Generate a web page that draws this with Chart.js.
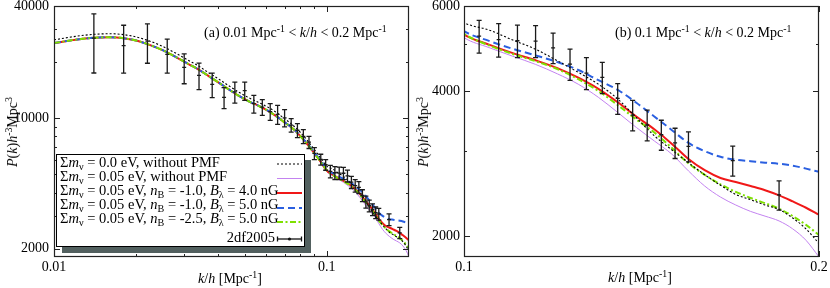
<!DOCTYPE html>
<html>
<head>
<meta charset="UTF-8" />
<title>P(k) comparison</title>
<style>
  body { margin: 0; background: white; }
  #wrap { position: relative; width: 830px; height: 288px; font-family: "Liberation Serif", serif; font-size: 14px; color: black; }
  canvas { position: absolute; top: 0; }
  .txt { position: absolute; white-space: nowrap; line-height: 14px; }
  .leg { font-size: 14.5px; }
  .ytitle { position: absolute; white-space: nowrap; line-height: 14px; transform: translate(-50%, -50%) rotate(-90deg); }
  .xtitle { position: absolute; white-space: nowrap; line-height: 14px; transform: translateX(-50%); }
  sup { font-size: 70%; vertical-align: 5px; line-height: 0; }
  sub { font-size: 70%; vertical-align: -3px; line-height: 0; }
  #legend { position: absolute; left: 56px; top: 154px; width: 249px; height: 93px; box-sizing: border-box;
            border: 1.5px solid #000; background: white; box-shadow: 6px 6px 0 #52605f; }
</style>
<script src="https://cdn.jsdelivr.net/npm/chart.js"></script>
</head>
<body>
<div id="wrap">
  <canvas id="chartLeft" width="415" height="288" style="left:0"></canvas>
  <canvas id="chartRight" width="415" height="288" style="left:415px"></canvas>

  <div class="txt" style="left:204px;top:26px">(a) 0.01 Mpc<sup>-1</sup> &lt; <i>k</i>/<i>h</i> &lt; 0.2 Mpc<sup>-1</sup></div>
  <div class="txt" style="left:615px;top:26px">(b) 0.1 Mpc<sup>-1</sup> &lt; <i>k</i>/<i>h</i> &lt; 0.2 Mpc<sup>-1</sup></div>

  <div class="ytitle" style="left:13px;top:132px"><i>P</i>(<i>k</i>)<i>h</i><sup>-3</sup>Mpc<sup>3</sup></div>
  <div class="ytitle" style="left:424px;top:132px"><i>P</i>(<i>k</i>)<i>h</i><sup>-3</sup>Mpc<sup>3</sup></div>
  <div class="xtitle" style="left:230px;top:272px"><i>k</i>/<i>h</i> [Mpc<sup>-1</sup>]</div>
  <div class="xtitle" style="left:640px;top:271px"><i>k</i>/<i>h</i> [Mpc<sup>-1</sup>]</div>

  <div id="legend"></div>
  <div class="txt leg" style="left:60px;top:155px">&Sigma;<i>m</i><sub>&nu;</sub> = 0.0 eV, without PMF</div>
  <div class="txt leg" style="left:60px;top:169px">&Sigma;<i>m</i><sub>&nu;</sub> = 0.05 eV, without PMF</div>
  <div class="txt leg" style="left:60px;top:183px">&Sigma;<i>m</i><sub>&nu;</sub> = 0.05 eV, <i>n</i><sub>B</sub> = -1.0, <i>B</i><sub>&lambda;</sub> = 4.0 nG</div>
  <div class="txt leg" style="left:60px;top:197px">&Sigma;<i>m</i><sub>&nu;</sub> = 0.05 eV, <i>n</i><sub>B</sub> = -1.0, <i>B</i><sub>&lambda;</sub> = 5.0 nG</div>
  <div class="txt leg" style="left:60px;top:211px">&Sigma;<i>m</i><sub>&nu;</sub> = 0.05 eV, <i>n</i><sub>B</sub> = -2.5, <i>B</i><sub>&lambda;</sub> = 5.0 nG</div>
  <div class="txt leg" style="right:555px;top:230px">2df2005</div>

  <svg width="830" height="288" style="position:absolute;left:0;top:0;pointer-events:none">
    <line x1="277" y1="164" x2="302" y2="164" stroke="#000" stroke-width="1" stroke-dasharray="2,2"/>
    <line x1="277" y1="178.5" x2="302" y2="178.5" stroke="#c383f0" stroke-width="1"/>
    <line x1="277" y1="193" x2="302" y2="193" stroke="#f01818" stroke-width="2"/>
    <line x1="277" y1="208" x2="302" y2="208" stroke="#2a5fe0" stroke-width="2" stroke-dasharray="7,4"/>
    <line x1="277" y1="222" x2="302" y2="222" stroke="#7ee000" stroke-width="2" stroke-dasharray="6,2.5,2,2.5"/>
    <line x1="277" y1="239" x2="302" y2="239" stroke="#111" stroke-width="1.3"/>
    <line x1="277.5" y1="236.5" x2="277.5" y2="241.5" stroke="#111" stroke-width="1.3"/>
    <line x1="301.5" y1="236.5" x2="301.5" y2="241.5" stroke="#111" stroke-width="1.3"/>
    <circle cx="289.5" cy="239" r="1.6" fill="#111"/>
  </svg>
</div>

<script>
// model curves, k/h in Mpc^-1
const kGrid = [0.010, 0.012, 0.014, 0.016, 0.018, 0.020, 0.022, 0.025, 0.028, 0.031, 0.034, 0.037, 0.040,
  0.044, 0.048, 0.052, 0.056, 0.060, 0.065, 0.070, 0.075, 0.080, 0.085, 0.090, 0.095,
  0.100, 0.105, 0.110, 0.115, 0.120, 0.125, 0.130, 0.135, 0.140, 0.145, 0.150, 0.155, 0.160,
  0.165, 0.170, 0.175, 0.180, 0.185, 0.190, 0.195, 0.200];

// sum m_nu = 0.0 eV, without PMF
const pNu0 = [26350, 27500, 28200, 28400, 28100, 27300, 26200, 24300, 22300, 20500, 19000, 17500, 16300,
  14850, 13700, 12850, 12200, 11600, 10800, 9950, 9200, 8400, 7580, 6800, 6120,
  5546, 5350, 5100, 4880, 4620, 4370, 4130, 3850, 3520, 3230, 3020, 2840, 2680,
  2550, 2440, 2380, 2320, 2270, 2180, 2070, 1930];

// sum m_nu = 0.05 eV, without PMF
const pNu005 = [25300, 26400, 27000, 27200, 26900, 26100, 25000, 23200, 21300, 19600, 18200, 16800, 15600,
  14200, 13100, 12300, 11700, 11100, 10300, 9500, 8800, 8000, 7200, 6450, 5780,
  5160, 4920, 4720, 4540, 4340, 4130, 3880, 3610, 3360, 3150, 2960, 2730, 2540,
  2410, 2320, 2250, 2200, 2150, 2070, 1960, 1810];

// nB = -1.0, B = 4.0 nG
const pB4 = [25300, 26400, 27000, 27200, 26900, 26100, 25000, 23200, 21300, 19600, 18200, 16800, 15600,
  14200, 13100, 12300, 11700, 11100, 10300, 9510, 8820, 8030, 7240, 6500, 5840,
  5235, 4990, 4790, 4630, 4460, 4260, 4040, 3790, 3540, 3330, 3110, 2890, 2740,
  2640, 2590, 2540, 2490, 2430, 2360, 2290, 2215];

// nB = -1.0, B = 5.0 nG
const pB5 = [25300, 26400, 27000, 27200, 26900, 26100, 25000, 23200, 21300, 19600, 18200, 16800, 15600,
  14200, 13100, 12300, 11700, 11100, 10320, 9530, 8840, 8060, 7290, 6560, 5920,
  5323, 5080, 4890, 4740, 4590, 4420, 4210, 4020, 3780, 3540, 3320, 3120, 3000,
  2920, 2880, 2860, 2840, 2825, 2800, 2760, 2718];

// nB = -2.5, B = 5.0 nG
const pB5n25 = [25300, 26400, 27000, 27200, 26900, 26100, 25000, 23200, 21300, 19600, 18200, 16800, 15600,
  14200, 13100, 12300, 11700, 11100, 10300, 9505, 8810, 8020, 7230, 6490, 5830,
  5255, 4970, 4770, 4610, 4440, 4230, 4000, 3740, 3490, 3280, 3050, 2830, 2680,
  2560, 2470, 2400, 2340, 2280, 2200, 2110, 2010];

// 2dF 2005 data with errors
const dfK = [0.014, 0.018, 0.022, 0.026, 0.030, 0.034, 0.038, 0.042, 0.046, 0.050, 0.054, 0.058, 0.062,
  0.066, 0.070, 0.074, 0.078, 0.082, 0.086, 0.090, 0.095, 0.099, 0.103, 0.107, 0.111, 0.115, 0.119,
  0.123, 0.127, 0.131, 0.135, 0.139, 0.143, 0.147, 0.151, 0.155, 0.169, 0.185];
const dfP = [26900, 24500, 25900, 22000, 18750, 17000, 15190, 12935, 13855, 14060, 11975, 11485, 10870,
  10510, 10060, 9200, 8630, 8010, 7450, 6490, 6015, 5640, 5196, 5108, 5083, 5076, 4914,
  4546, 4356, 4266, 3859, 3564, 3399, 3245, 3122, 3070, 2868, 2434];
const dfErr = [9400, 7040, 6170, 4550, 3430, 2760, 2285, 1665, 1785, 1580, 1305, 1105, 1115,
  1225, 1070, 760, 740, 690, 560, 480, 405, 370, 405, 407, 395, 388, 358,
  339, 332, 318, 282, 260, 249, 232, 225, 220, 205, 170];

// tick values
const leftXMajor = [0.01, 0.1];
const leftXMinor = [0.02, 0.03, 0.04, 0.05, 0.06, 0.07, 0.08, 0.09];
const leftYMajor = [2000, 10000, 40000];
const leftYMinor = [3000, 4000, 5000, 6000, 7000, 8000, 9000, 20000, 30000];
const rightXMajor = [0.1, 0.2];
const rightXMinor = [];
const rightYMajor = [2000, 4000, 6000];
const rightYMinor = [3000, 5000];

// frame with inward ticks on all four sides
const frameTicks = {
  id: 'frameTicks',
  afterDraw(chart, args, opts) {
    const { ctx, chartArea: a, scales: { x, y } } = chart;
    ctx.save();
    ctx.strokeStyle = '#222';
    ctx.lineWidth = 1;
    ctx.beginPath();
    const tick = (vals, len, horiz) => vals.forEach(v => {
      if (horiz) {
        const px = Math.round(x.getPixelForValue(v)) + 0.5;
        ctx.moveTo(px, a.bottom); ctx.lineTo(px, a.bottom - len);
        ctx.moveTo(px, a.top); ctx.lineTo(px, a.top + len);
      } else {
        const py = Math.round(y.getPixelForValue(v)) + 0.5;
        ctx.moveTo(a.left, py); ctx.lineTo(a.left + len, py);
        ctx.moveTo(a.right, py); ctx.lineTo(a.right - len, py);
      }
    });
    tick(opts.xMajor, 6, true);
    tick(opts.xMinor, 3, true);
    tick(opts.yMajor, 6, false);
    tick(opts.yMinor, 3, false);
    ctx.stroke();
    ctx.lineWidth = 1.2;
    ctx.strokeRect(a.left + 0.5, a.top + 0.5, a.right - a.left - 1, a.bottom - a.top - 1);
    ctx.restore();
  }
};

// vertical error bars for datasets carrying an errs array
const errorBars = {
  id: 'errorBars',
  afterDatasetsDraw(chart) {
    const { ctx, chartArea: a, scales: { x, y } } = chart;
    ctx.save();
    ctx.beginPath();
    ctx.rect(a.left, a.top, a.right - a.left, a.bottom - a.top);
    ctx.clip();
    ctx.strokeStyle = '#1a1a1a';
    ctx.lineWidth = 1.3;
    chart.data.datasets.forEach(ds => {
      if (!ds.errs) return;
      ds.data.forEach((p, i) => {
        const e = ds.errs[i];
        const px = x.getPixelForValue(p.x);
        const yt = y.getPixelForValue(p.y + e);
        const yb = y.getPixelForValue(p.y - e);
        const yc = y.getPixelForValue(p.y);
        ctx.beginPath();
        ctx.moveTo(px, yt); ctx.lineTo(px, yb);
        ctx.moveTo(px - 2.5, yt); ctx.lineTo(px + 2.5, yt);
        ctx.moveTo(px - 2.5, yb); ctx.lineTo(px + 2.5, yb);
        ctx.moveTo(px - 2, yc); ctx.lineTo(px + 2, yc);
        ctx.stroke();
      });
    });
    ctx.restore();
  }
};

function curve(vals, color, width, dash, order) {
  return {
    data: kGrid.map((k, i) => ({ x: k, y: vals[i] })),
    borderColor: color, borderWidth: width, borderDash: dash,
    showLine: true, pointRadius: 0, fill: false, order: order,
    cubicInterpolationMode: 'monotone', clip: 0
  };
}

function buildDatasets() {
  return [
    { data: dfK.map((k, i) => ({ x: k, y: dfP[i] })), errs: dfErr, pointRadius: 0, showLine: false, order: 0 },
    curve(pNu0, '#000000', 1.1, [2, 2], 1),
    curve(pB5n25, '#7ee000', 2, [6, 2.5, 2, 2.5], 2),
    curve(pB5, '#2a5fe0', 2, [7, 4], 3),
    curve(pB4, '#f01818', 2, [], 4),
    curve(pNu005, '#c383f0', 1, [], 5)
  ];
}

const tickFont = { family: 'Liberation Serif', size: 14 };

function makeChart(id, cfg) {
  return new Chart(document.getElementById(id).getContext('2d'), {
    type: 'scatter',
    data: { datasets: buildDatasets() },
    options: {
      responsive: false,
      animation: false,
      layout: { padding: { left: 0, right: cfg.padRight, top: 6, bottom: 0 } },
      plugins: {
        legend: { display: false },
        tooltip: { enabled: false },
        frameTicks: { xMajor: cfg.xMajor, xMinor: cfg.xMinor, yMajor: cfg.yMajor, yMinor: cfg.yMinor }
      },
      scales: {
        x: {
          type: 'logarithmic', min: cfg.xMin, max: cfg.xMax,
          grid: { display: false, drawTicks: false }, border: { display: false },
          afterBuildTicks: s => { s.ticks = cfg.xMajor.map(v => ({ value: v })); },
          afterFit: s => { s.height = 31; s.paddingLeft = 0; s.paddingRight = 0; },
          ticks: { autoSkip: false, maxRotation: 0, padding: 2, color: '#000', font: tickFont,
                   callback: v => String(v) }
        },
        y: {
          type: 'logarithmic', min: cfg.yMin, max: cfg.yMax,
          grid: { display: false, drawTicks: false }, border: { display: false },
          afterBuildTicks: s => { s.ticks = cfg.yMajor.map(v => ({ value: v })); },
          afterFit: s => { s.width = cfg.yWidth; s.paddingTop = 0; s.paddingBottom = 0; },
          ticks: { autoSkip: false, padding: cfg.yPad, color: '#000', font: tickFont,
                   callback: v => String(v) }
        }
      }
    },
    plugins: [frameTicks, errorBars]
  });
}

makeChart('chartLeft', {
  xMin: 0.01, xMax: 0.2, yMin: 1806, yMax: 40000,
  xMajor: leftXMajor, xMinor: leftXMinor, yMajor: leftYMajor, yMinor: leftYMinor,
  yWidth: 54, yPad: 5, padRight: 6
});

makeChart('chartRight', {
  xMin: 0.1, xMax: 0.2, yMin: 1810, yMax: 6000,
  xMajor: rightXMajor, xMinor: rightXMinor, yMajor: rightYMajor, yMinor: rightYMinor,
  yWidth: 49, yPad: 4, padRight: 11
});
</script>
</body>
</html>
